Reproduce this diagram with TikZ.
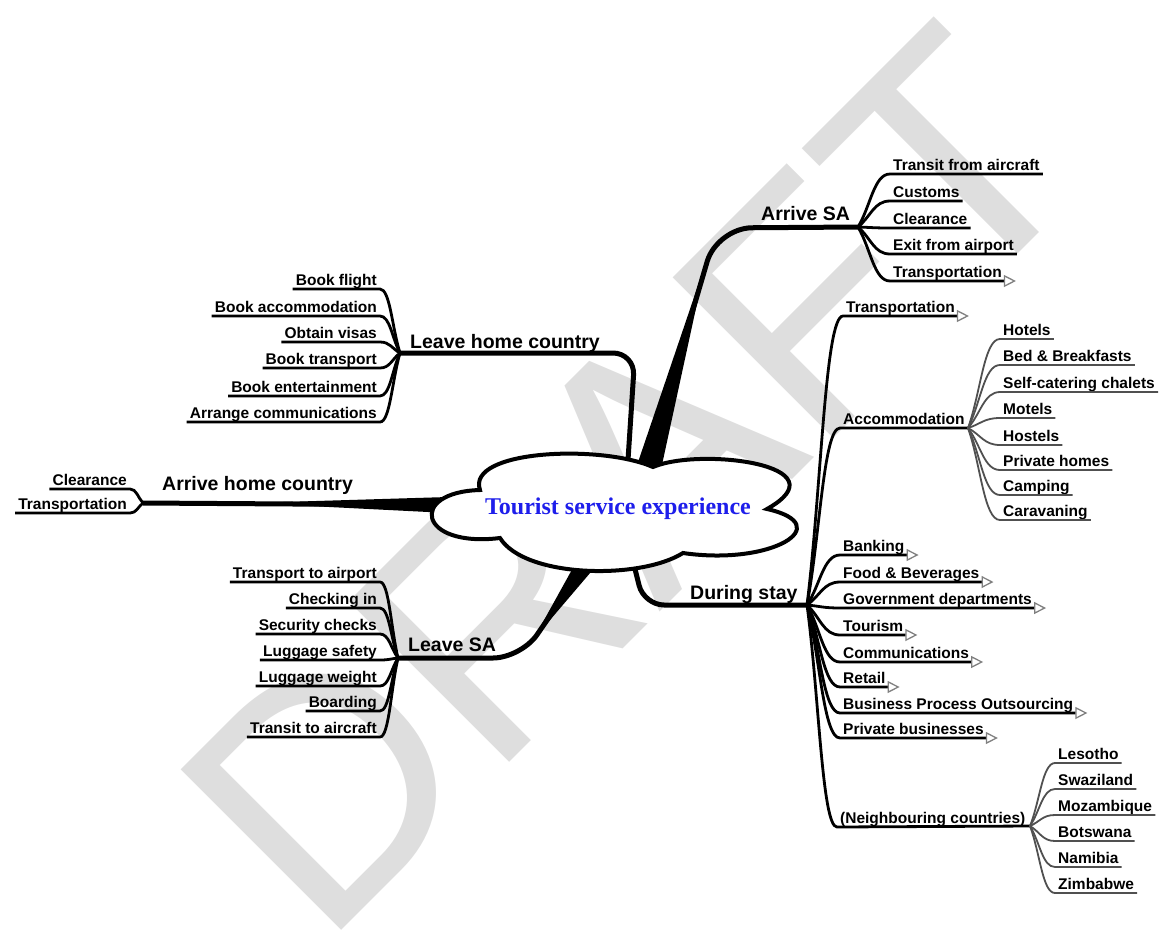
\documentclass[tikz,border=0pt]{standalone}
\usepackage{fontspec}
\setmainfont{Liberation Sans}
\newfontfamily\coreface{Liberation Serif}
\usetikzlibrary{arrows.meta,calc}
\definecolor{wmgray}{RGB}{222,222,222}
\definecolor{coreblue}{RGB}{30,30,235}
\definecolor{leafgray}{RGB}{80,80,80}

\begin{document}
\begin{tikzpicture}[x=1pt,y=-1pt]
\tikzstyle{trunk}=[line width=5pt, rounded corners=22pt]
\tikzstyle{twig}=[line width=2.8pt]
\tikzstyle{leafline}=[line width=1.8pt, draw=leafgray]
\tikzstyle{topic}=[font=\bfseries\fontsize{19.5}{20}\selectfont, inner sep=0pt]
\tikzstyle{subtopic}=[font=\bfseries\fontsize{15.5}{16}\selectfont, inner xsep=3pt, inner ysep=3.5pt, text depth=0pt]
\tikzstyle{collapsed}=[-{Triangle[open, length=12pt, width=12pt, line width=1.3pt, color=gray]}]

\useasboundingbox (0,0) rectangle (1168,938);

\node[wmgray, font=\fontsize{330}{330}\selectfont, rotate=45, anchor=base west, inner sep=0pt] (draft) at (322,950) {DRAFT};

\coordinate (aRoot) at (646,470);
\coordinate (aJ) at (858,227);
\coordinate (lRoot) at (628,460);
\coordinate (lJ) at (400,353);
\coordinate (hRoot) at (445,505);
\coordinate (hJ) at (143,503);
\coordinate (sRoot) at (585,565);
\coordinate (sJ) at (398,658);
\coordinate (dRoot) at (634,565);
\coordinate (dJ) at (807,605);
\coordinate (accJ) at (968,428);
\coordinate (ncJ) at (1030,826);

\fill (634,474) -- (706,262) -- (660,474) -- cycle;
\draw[trunk, rounded corners=35pt] (aRoot) -- (717,228) -- (aJ);
\draw[trunk] (lRoot) -- (635,353) -- (lJ);
\fill (250,503) -- (448,497) -- (448,513) -- cycle;
\draw[trunk] (hRoot) -- (hJ);
\fill (574,566) -- (533,640) -- (596,566) -- cycle;
\draw[trunk, rounded corners=28pt] (sRoot) -- (521,658) -- (sJ);
\draw[trunk, rounded corners=20pt] (dRoot) -- (644,605) -- (dJ);

\draw[line width=4pt, fill=white] (480,490) .. controls (466,450) and (600,444) .. (653,467)
  .. controls (700,447) and (845,465) .. (767,509)
  .. controls (838,525) and (772,566) .. (683,553)
  .. controls (640,580) and (525,578) .. (500,538)
  .. controls (418,548) and (408,492) .. (480,490) -- cycle;
\node[coreblue, font=\coreface\bfseries\fontsize{24}{25}\selectfont] (core) at (618,509) {Tourist service experience};

\node[topic, anchor=base west] (arriveSA) at (761,220) {Arrive SA};
\node[topic, anchor=base west] (leaveHome) at (410,348) {Leave home country};
\node[topic, anchor=base west] (arriveHome) at (162,490) {Arrive home country};
\node[topic, anchor=base west] (leaveSA) at (408,651) {Leave SA};
\node[topic, anchor=base west] (during) at (690,599) {During stay};

\foreach \txt/\y [count=\i] in {Transit from aircraft/174, Customs/201, Clearance/228, Exit from airport/254} {
\node[subtopic, anchor=south west] (as\i) at (890,\y) {\txt};
\draw[twig] (aJ) .. controls ($(aJ)!0.4!(as\i.south west)$) and ($(as\i.south west)!0.5!(aJ |- as\i.south west)$) .. (as\i.south west) -- (as\i.south east);
}
\node[subtopic, anchor=south west] (as5) at (890,281) {Transportation};
\draw[twig, collapsed] (aJ) .. controls ($(aJ)!0.4!(as5.south west)$) and ($(as5.south west)!0.5!(aJ |- as5.south west)$) .. (as5.south west) -- ([xshift=11pt]as5.south east);

\foreach \txt/\y [count=\i] in {Book flight/289, Book accommodation/316, Obtain visas/342, Book transport/368, Book entertainment/396, Arrange communications/422} {
\node[subtopic, anchor=south east] (lh\i) at (380,\y) {\txt};
\draw[twig] (lJ) .. controls ($(lJ)!0.4!(lh\i.south east)$) and ($(lh\i.south east)!0.5!(lJ |- lh\i.south east)$) .. (lh\i.south east) -- (lh\i.south west);
}

\foreach \txt/\y [count=\i] in {Clearance/489, Transportation/513} {
\node[subtopic, anchor=south east] (hc\i) at (130,\y) {\txt};
\draw[twig] (hJ) .. controls ($(hJ)!0.4!(hc\i.south east)$) and ($(hc\i.south east)!0.5!(hJ |- hc\i.south east)$) .. (hc\i.south east) -- (hc\i.south west);
}

\foreach \txt/\y [count=\i] in {Transport to airport/582, Checking in/608, Security checks/634, Luggage safety/660, Luggage weight/686, Boarding/711, Transit to aircraft/737} {
\node[subtopic, anchor=south east] (ls\i) at (380,\y) {\txt};
\draw[twig] (sJ) .. controls ($(sJ)!0.4!(ls\i.south east)$) and ($(ls\i.south east)!0.5!(sJ |- ls\i.south east)$) .. (ls\i.south east) -- (ls\i.south west);
}

\node[subtopic, anchor=south west] (dsTrans) at (843,316) {Transportation};
\draw[twig, collapsed] (dJ) .. controls ($(dJ)!0.4!(dsTrans.south west)$) and ($(dsTrans.south west)!0.5!(dJ |- dsTrans.south west)$) .. (dsTrans.south west) -- ([xshift=11pt]dsTrans.south east);
\node[subtopic, anchor=south west] (dsAcc) at (840,428) {Accommodation};
\draw[twig] (dJ) .. controls ($(dJ)!0.4!(dsAcc.south west)$) and ($(dsAcc.south west)!0.5!(dJ |- dsAcc.south west)$) .. (dsAcc.south west) -- (accJ);
\foreach \txt/\y [count=\i] in {Banking/555, Food \& Beverages/582, Government departments/608, Tourism/635, Communications/662, Retail/687, Business Process Outsourcing/713, Private businesses/738} {
\node[subtopic, anchor=south west] (ds\i) at (840,\y) {\txt};
\draw[twig, collapsed] (dJ) .. controls ($(dJ)!0.4!(ds\i.south west)$) and ($(ds\i.south west)!0.5!(dJ |- ds\i.south west)$) .. (ds\i.south west) -- ([xshift=11pt]ds\i.south east);
}
\node[subtopic, anchor=south west] (dsNb) at (837,827) {(Neighbouring countries)};
\draw[twig] (dJ) .. controls ($(dJ)!0.4!(dsNb.south west)$) and ($(dsNb.south west)!0.5!(dJ |- dsNb.south west)$) .. (dsNb.south west) -- (ncJ);

\foreach \txt/\y [count=\i] in {Hotels/339, Bed \& Breakfasts/365, Self-catering chalets/392, Motels/418, Hostels/445, Private homes/470, Camping/495, Caravaning/520} {
\node[subtopic, anchor=south west] (ac\i) at (1000,\y) {\txt};
\draw[leafline] (accJ) .. controls ($(accJ)!0.4!(ac\i.south west)$) and ($(ac\i.south west)!0.5!(accJ |- ac\i.south west)$) .. (ac\i.south west) -- (ac\i.south east);
}

\foreach \txt/\y [count=\i] in {Lesotho/763, Swaziland/789, Mozambique/815, Botswana/841, Namibia/867, Zimbabwe/893} {
\node[subtopic, anchor=south west] (nc\i) at (1055,\y) {\txt};
\draw[leafline] (ncJ) .. controls ($(ncJ)!0.4!(nc\i.south west)$) and ($(nc\i.south west)!0.5!(ncJ |- nc\i.south west)$) .. (nc\i.south west) -- (nc\i.south east);
}

\end{tikzpicture}
\end{document}
